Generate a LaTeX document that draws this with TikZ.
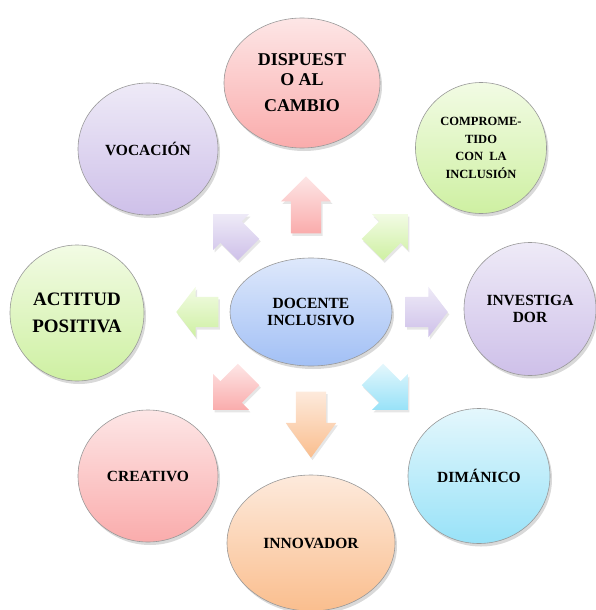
\documentclass[tikz,border=0pt]{standalone}
\usepackage{fontspec}
\setmainfont{Liberation Serif}
\usetikzlibrary{shapes.geometric}
\usetikzlibrary{shapes.arrows}
\usetikzlibrary{shadows}

\definecolor{rosaA}{RGB}{253,230,230}
\definecolor{rosaB}{RGB}{250,172,172}
\definecolor{verdeA}{RGB}{242,251,228}
\definecolor{verdeB}{RGB}{206,240,162}
\definecolor{lilaA}{RGB}{238,234,247}
\definecolor{lilaB}{RGB}{206,192,233}
\definecolor{azulA}{RGB}{222,232,251}
\definecolor{azulB}{RGB}{162,192,245}
\definecolor{naranjaA}{RGB}{253,234,220}
\definecolor{naranjaB}{RGB}{250,190,142}
\definecolor{celesteA}{RGB}{228,247,252}
\definecolor{celesteB}{RGB}{152,226,248}

\begin{document}
\begin{tikzpicture}[x=1pt,y=-1pt,
globo/.style={ellipse,draw=gray!80,line width=0.6pt,align=center,inner sep=0pt,
  font=\bfseries\fontsize{15.5}{17}\selectfont,
  drop shadow={opacity=0.3,shadow xshift=2pt,shadow yshift=-3pt}},
flecha/.style={single arrow,draw=none,inner sep=15pt,single arrow head extend=10pt,
  minimum height=#1,anchor=tip,drop shadow={opacity=0.2,shadow xshift=1.5pt,shadow yshift=-2.5pt}},
rosa/.style={top color=rosaA,bottom color=rosaB},
verde/.style={top color=verdeA,bottom color=verdeB},
lila/.style={top color=lilaA,bottom color=lilaB},
azul/.style={top color=azulA,bottom color=azulB},
naranja/.style={top color=naranjaA,bottom color=naranjaB},
celeste/.style={top color=celesteA,bottom color=celesteB}]
\useasboundingbox (0,0) rectangle (595,610);
\path (302,83) node(disp)[globo,rosa,minimum width=156pt,minimum height=130pt,
  font=\bfseries\fontsize{18}{20}\selectfont]{DISPUEST\\O AL\\[6pt]CAMBIO}
(481,148) node(comp)[globo,verde,minimum width=131pt,minimum height=131pt,
  font=\bfseries\fontsize{12.5}{17.5}\selectfont]{COMPROME-\\TIDO\\CON~ LA\\INCLUSIÓN}
(148,149) node(voca)[globo,lila,minimum width=140pt,minimum height=132pt]{VOCACIÓN}
(77,313) node(acti)[globo,verde,minimum width=134pt,minimum height=136pt,
  font=\bfseries\fontsize{19}{27}\selectfont]{ACTITUD\\POSITIVA}
(311,312) node(doce)[globo,azul,minimum width=162pt,minimum height=108pt]{DOCENTE\\INCLUSIVO}
(530,309) node(inve)[globo,lila,minimum width=132pt,minimum height=133pt]{INVESTIGA\\DOR}
(148,476) node(crea)[globo,rosa,minimum width=140pt,minimum height=132pt]{CREATIVO}
(479,476) node(dima)[globo,celeste,minimum width=142pt,minimum height=135pt]{DIMÁNICO}
(311,543) node(inno)[globo,naranja,minimum width=168pt,minimum height=136pt]{INNOVADOR};
%flechas desde el centro
\path (306,176) node(f1)[flecha=57pt,rosa,rotate=90]{}
(408,214) node(f2)[flecha=50pt,verde,rotate=45]{}
(448,312) node(f3)[flecha=40pt,lila,single arrow tip angle=105]{}
(408,410) node(f4)[flecha=50pt,celeste,rotate=-45]{}
(311,458) node(f5)[flecha=66pt,naranja,rotate=-90,single arrow tip angle=72]{}
(213,410) node(f6)[flecha=50pt,rosa,rotate=-135]{}
(176,312) node(f7)[flecha=38pt,verde,rotate=180,single arrow tip angle=105]{}
(213,214) node(f8)[flecha=50pt,lila,rotate=135]{};
\end{tikzpicture}
\end{document}
